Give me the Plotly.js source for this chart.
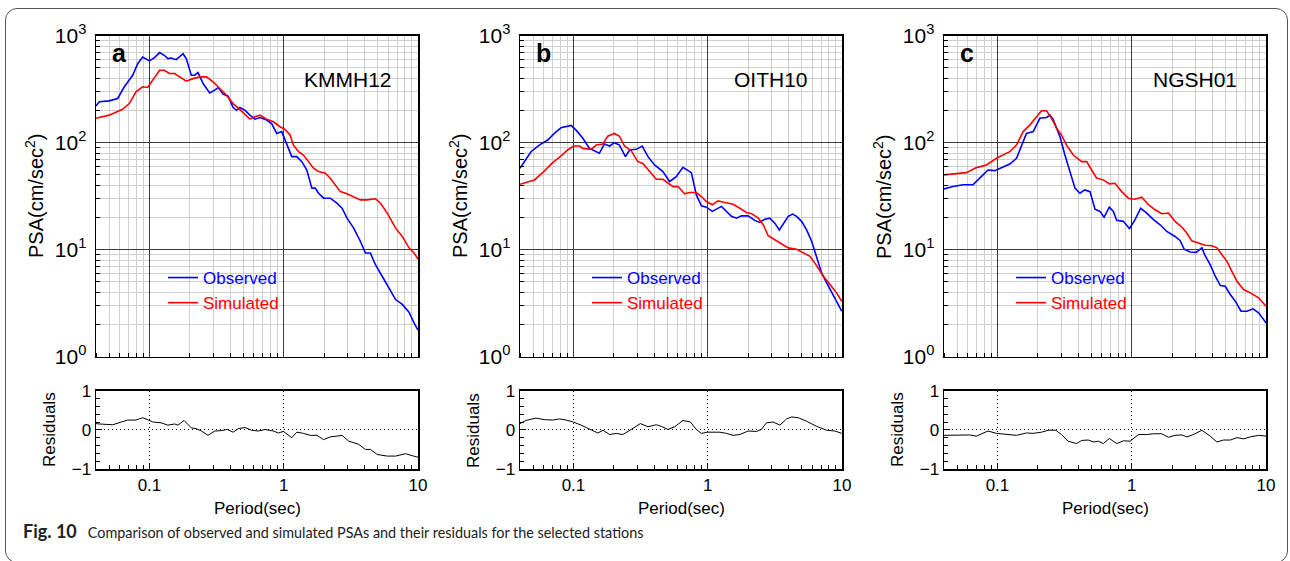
<!DOCTYPE html>
<html><head><meta charset="utf-8">
<script src="https://cdn.plot.ly/plotly-3.0.1.min.js"></script>
<style>
html,body{margin:0;padding:0;background:#fff;overflow:hidden;width:1290px;height:561px}
#chart{position:absolute;left:0;top:0;width:1290px;height:561px}
#frame{position:absolute;left:5px;top:8px;width:1281px;height:553px;border:1px solid #555;border-radius:12px;pointer-events:none}
</style></head><body>
<div id="chart"></div><div id="frame"></div>
<script>
// ---------- data ----------
const stations = ["KMMH12", "OITH10", "NGSH01"];
const panelLetters = ["a", "b", "c"];
const xTickVals = [0.1, 1, 10];
const xTickText = ["0.1", "1", "10"];
const yTickVals = [1, 10, 100, 1000];
const yTickText = ["10<sup>0</sup>", "10<sup>1</sup>", "10<sup>2</sup>", "10<sup>3</sup>"];
const resTickVals = [-1, 0, 1];
const resTickText = ["\u22121", "0", "1"];

// Panel a: KMMH12
const aObsT = [0.04,0.0423,0.0502,0.058,0.065,0.075,0.0818,0.089,0.1,0.109,0.119,0.129,0.137,0.145,0.158,0.178,0.188,0.205,0.217,0.230,0.251,0.281,0.306,0.325,0.354,0.386,0.420,0.445,0.471,0.514,0.560,0.611,0.666,0.746,0.813,0.887,0.966,1.023,1.084,1.148,1.251,1.364,1.486,1.620,1.716,1.817,1.982,2.22,2.49,2.72,2.96,3.32,3.72,4.06,4.42,4.82,5.41,6.07,6.81,7.64,8.57,9.34,10];
const aObsV = [220,241,246,259,333,427,548,632,581,624,695,656,611,619,597,679,611,427,427,452,357,292,310,328,284,272,213,201,213,201,181,166,172,163,151,122,127,106,85.5,74.1,74.1,66.5,55.6,37.6,37.6,33.7,30.3,30.3,27.2,24.4,19.7,15.9,12.0,9.31,9.31,7.24,5.65,4.40,3.42,3.08,2.61,2.07,1.77];
const aSimT = [0.04,0.0502,0.063,0.0708,0.0794,0.089,0.097,0.106,0.119,0.129,0.141,0.154,0.168,0.188,0.211,0.237,0.266,0.298,0.334,0.375,0.420,0.471,0.560,0.611,0.666,0.746,0.838,0.939,1.023,1.115,1.181,1.288,1.403,1.530,1.667,1.817,2.04,2.22,2.42,2.64,2.96,3.32,3.72,4.18,4.82,5.26,5.90,6.81,7.64,8.57,9.34,10];
const aSimV = [169,181,205,232,299,333,328,384,475,475,443,443,412,376,397,412,412,370,321,278,232,205,166,175,181,166,157,141,133,118,95,82.4,76.7,66.5,57.7,53.7,51.8,46.6,40.4,34.9,33.3,31.4,29.2,29.2,29.9,27.2,22.0,15.9,13.3,10.4,9.31,8.18];
const aResT = [0.04,0.0423,0.0532,0.0597,0.0689,0.0794,0.089,0.097,0.106,0.122,0.137,0.154,0.163,0.181,0.205,0.223,0.244,0.273,0.306,0.343,0.381,0.420,0.458,0.514,0.577,0.646,0.725,0.838,0.912,0.995,1.148,1.251,1.403,1.574,1.766,1.982,2.22,2.49,2.72,3.05,3.62,4.06,4.42,4.97,5.90,6.81,8.09,9.08,10];
const aResV = [0.16,0.15,0.13,0.18,0.25,0.25,0.31,0.26,0.20,0.18,0.12,0.15,0.12,0.24,0.05,0.03,-0.03,-0.14,-0.03,-0.02,0.01,-0.06,0.03,0.06,-0.01,-0.03,0.01,-0.03,-0.08,-0.04,-0.20,-0.06,-0.09,-0.14,-0.14,-0.25,-0.18,-0.16,-0.14,-0.29,-0.37,-0.50,-0.50,-0.63,-0.67,-0.67,-0.61,-0.66,-0.70];

// Panel b: OITH10
const bObsT = [0.04,0.043,0.0483,0.0557,0.0643,0.0721,0.0809,0.0961,0.1047,0.1175,0.1316,0.156,0.170,0.186,0.202,0.220,0.244,0.262,0.294,0.325,0.359,0.402,0.464,0.520,0.583,0.654,0.693,0.755,0.823,0.897,0.977,1.083,1.265,1.378,1.502,1.637,1.784,2.00,2.24,2.44,2.66,2.90,3.16,3.41,3.65,3.98,4.29,4.59,5.00,5.45,5.94,6.47,7.05,7.69,8.61,9.23,9.95];
const bObsV = [57.7,66.5,82.4,95,106,122,138,145,131,110,88.5,79.6,97.2,93.1,100,95,74.1,85.5,86.7,93.1,74.1,61.9,53.7,43.4,48.2,58.9,56.5,52.5,32.5,25.7,25.0,22.8,25.4,22.8,20.5,19.7,20.7,20.7,18.8,18.0,19.3,19.7,17.7,15.3,17.5,20.5,21.5,20.5,18.4,15.3,12.0,8.68,6.07,4.89,3.81,3.18,2.66];
const bSimT = [0.04,0.0443,0.0512,0.0590,0.0701,0.0809,0.0908,0.1,0.111,0.1175,0.1355,0.1477,0.166,0.180,0.202,0.220,0.240,0.269,0.302,0.329,0.369,0.414,0.464,0.506,0.551,0.601,0.673,0.734,0.823,0.897,0.977,1.083,1.194,1.340,1.545,1.734,1.944,2.12,2.38,2.59,2.82,3.16,3.55,3.98,4.59,5.14,5.77,6.47,7.26,8.13,9.12,9.95];
const bSimV = [40.9,42.7,44.9,52.5,65.2,75.2,85.5,93.1,93.1,88.5,86.7,95,97.2,115,122,115,93.1,84.2,66.5,64.1,53.7,45.5,45.5,41.8,38.9,38.9,33.3,34.2,34.2,31.4,28.2,26.3,28.6,27.6,26.6,24.4,22.3,21.7,19.7,17.1,13.5,12.4,11.4,10.4,10.1,9.31,8.68,7.10,5.65,4.72,3.95,3.30];
const bResT = [0.04,0.0443,0.0526,0.0608,0.0701,0.0787,0.0882,0.1,0.114,0.1316,0.152,0.166,0.186,0.208,0.233,0.269,0.315,0.359,0.414,0.451,0.506,0.568,0.654,0.743,0.823,0.897,1.0,1.231,1.378,1.545,1.734,2.0,2.31,2.51,2.74,3.07,3.45,3.87,4.21,4.72,5.45,6.47,7.69,8.87,9.95];
const bResV = [0.16,0.24,0.30,0.26,0.25,0.28,0.25,0.20,0.12,0.03,-0.08,-0.01,-0.12,-0.09,-0.12,0.01,0.16,0.08,0.13,0.09,0.01,0.08,0.24,0.20,0.01,-0.09,-0.06,-0.06,-0.09,-0.14,-0.12,-0.03,-0.04,0.01,0.18,0.20,0.12,0.28,0.33,0.31,0.22,0.09,-0.01,-0.03,-0.09];

// Panel c: NGSH01
const cObsT = [0.04,0.0467,0.0554,0.0658,0.0738,0.0851,0.0955,0.110,0.1236,0.1387,0.151,0.1645,0.1846,0.207,0.232,0.246,0.260,0.292,0.318,0.347,0.378,0.411,0.448,0.489,0.533,0.580,0.622,0.681,0.730,0.773,0.867,0.962,1.059,1.167,1.294,1.452,1.627,1.825,2.10,2.29,2.46,2.72,3.02,3.33,3.52,3.84,4.19,4.57,4.97,5.42,5.91,6.51,7.21,8.00,8.81,10];
const cObsV = [37.0,38.9,40.4,40.4,46.6,55.6,54.8,59.7,63.2,71.5,95,122,127,169,172,181,165,114,76.7,53.7,37.6,33.7,36.2,34.9,23.9,22.8,20.1,25.0,22.8,18.8,18.4,15.7,19.1,24.4,22.0,19.1,17.1,14.8,13.3,12.2,10.1,9.51,9.44,10.4,8.79,7.24,5.65,4.62,4.55,3.81,3.30,2.66,2.66,2.80,2.57,2.07];
const cSimT = [0.04,0.0494,0.0588,0.0697,0.0828,0.0983,0.110,0.1236,0.1387,0.1555,0.174,0.195,0.213,0.232,0.253,0.276,0.300,0.327,0.367,0.424,0.462,0.503,0.548,0.615,0.681,0.751,0.842,0.944,1.059,1.188,1.331,1.493,1.675,1.879,2.10,2.36,2.57,2.80,3.15,3.52,3.95,4.31,4.70,5.12,5.57,6.08,6.81,7.64,8.81,10];
const cSimV = [50.0,51.8,52.5,58.5,61.9,71.5,76.7,82.4,95,127,146,175,199,199,169,136,118,95,76.7,66.5,66.5,55.6,46.6,44.9,41.2,41.8,34.9,30.3,29.6,31.0,26.3,23.6,21.7,22.0,18.4,16.3,14.3,12.1,11.5,11.0,10.9,10.4,8.98,7.78,6.28,5.07,4.24,3.95,3.55,2.96];
const cResT = [0.04,0.0524,0.0622,0.0697,0.0851,0.0983,0.117,0.1387,0.1645,0.1846,0.213,0.239,0.272,0.300,0.336,0.389,0.424,0.475,0.519,0.564,0.615,0.681,0.773,0.867,0.973,1.122,1.294,1.452,1.675,1.879,2.10,2.36,2.57,2.88,3.33,3.84,4.31,4.83,5.42,6.08,6.81,7.64,8.81,10];
const cResV = [-0.14,-0.13,-0.13,-0.16,-0.03,-0.09,-0.11,-0.14,-0.08,-0.09,-0.06,-0.01,-0.01,-0.12,-0.29,-0.35,-0.27,-0.26,-0.31,-0.29,-0.35,-0.22,-0.35,-0.28,-0.29,-0.12,-0.12,-0.10,-0.10,-0.19,-0.14,-0.13,-0.18,-0.12,-0.01,-0.16,-0.31,-0.26,-0.26,-0.20,-0.23,-0.18,-0.14,-0.16];

const panels = [
  {obsT:aObsT, obsV:aObsV, simT:aSimT, simV:aSimV, resT:aResT, resV:aResV},
  {obsT:bObsT, obsV:bObsV, simT:bSimT, simV:bSimV, resT:bResT, resV:bResV},
  {obsT:cObsT, obsV:cObsV, simT:cSimT, simV:cSimV, resT:cResT, resV:cResV}
];
const seriesNames = ["Observed", "Simulated"];
const seriesColors = ["#0000ff", "#ff0000"];
const captionBold = "Fig. 10";
const captionText = "Comparison of observed and simulated PSAs and their residuals for the selected stations";

// ---------- layout helpers ----------
const W = 1290, H = 561;
const px = x => x / W, py = y => 1 - y / H;
const colX = [[96, 418], [520, 842], [944, 1266]];
const psaY = [35.7, 356.7], resY = [390.7, 469];
const FONT = "Liberation Sans, Arial, Helvetica, sans-serif";

function minorLog(lo, hi) {
  const out = [];
  for (let e = lo; e < hi; e++) for (let m = 2; m <= 9; m++) out.push(m * Math.pow(10, e));
  return out;
}
const minorX = minorLog(-2, 1).filter(v => v >= 0.04 - 1e-9);
const minorY = minorLog(0, 3);
const xRange = [Math.log10(0.04), 1];

const data = [];
const layout = {
  width: W, height: H, margin: {l: 0, r: 0, t: 0, b: 0},
  paper_bgcolor: "#fff", plot_bgcolor: "#fff",
  font: {family: FONT, color: "#000"},
  showlegend: true, annotations: []
};

panels.forEach((p, i) => {
  const k1 = 2 * i + 1, k2 = 2 * i + 2;
  const xa = "x" + (k1 === 1 ? "" : k1), ya = "y" + (k1 === 1 ? "" : k1);
  const xr = "x" + k2, yr = "y" + k2;
  const legName = i === 0 ? "legend" : "legend" + (i + 1);
  [[p.obsT, p.obsV], [p.simT, p.simV]].forEach((s, j) => {
    data.push({
      x: s[0], y: s[1], xaxis: xa, yaxis: ya, type: "scatter", mode: "lines",
      line: {color: seriesColors[j], width: 1.6},
      name: '<span style="color:' + seriesColors[j] + '">' + seriesNames[j] + '</span>',
      legend: legName, showlegend: true, hoverinfo: "skip"
    });
  });
  data.push({
    x: p.resT, y: p.resV, xaxis: xr, yaxis: yr, type: "scatter", mode: "lines",
    line: {color: "#000", width: 1}, showlegend: false, hoverinfo: "skip"
  });

  const dom = [px(colX[i][0]), px(colX[i][1])];
  const axLine = {showline: true, mirror: true, linecolor: "#000", linewidth: 1.5, zeroline: false};
  layout["xaxis" + (k1 === 1 ? "" : k1)] = Object.assign({
    type: "log", range: xRange, domain: dom, anchor: ya,
    tickvals: xTickVals, showticklabels: false, ticks: "",
    showgrid: true, gridcolor: "#3a3a3a", gridwidth: 1,
    minor: {tickvals: minorX, showgrid: true, gridcolor: "#cfcfcf", gridwidth: 1, ticks: "inside", ticklen: 4, tickcolor: "#000", tickwidth: 1}
  }, axLine);
  layout["yaxis" + (k1 === 1 ? "" : k1)] = Object.assign({
    type: "log", range: [0, 3], domain: [py(psaY[1]), py(psaY[0])], anchor: xa,
    tickvals: yTickVals, ticktext: yTickText, tickfont: {size: 21, family: FONT},
    ticks: "", ticklabelstandoff: 4, showgrid: true, gridcolor: "#3a3a3a", gridwidth: 1,
    minor: {tickvals: minorY, showgrid: true, gridcolor: "#cfcfcf", gridwidth: 1, ticks: "inside", ticklen: 4, tickcolor: "#000", tickwidth: 1}
  }, axLine);
  layout["xaxis" + k2] = Object.assign({
    type: "log", range: xRange, domain: dom, anchor: yr,
    tickvals: xTickVals, ticktext: xTickText, tickfont: {size: 17, family: FONT},
    ticks: "inside", ticklen: 6, tickcolor: "#000",
    showgrid: true, gridcolor: "#000", gridwidth: 1, griddash: "1px,3px",
    minor: {tickvals: minorX, ticks: "inside", ticklen: 4, tickcolor: "#000", showgrid: false}
  }, axLine);
  layout["yaxis" + k2] = Object.assign({
    range: [-1, 1], domain: [py(resY[1]), py(resY[0])], anchor: xr,
    tickvals: resTickVals, ticktext: resTickText, tickfont: {size: 17, family: FONT},
    ticks: "inside", ticklen: 6, tickcolor: "#000",
    showgrid: true, gridcolor: "#000", gridwidth: 1, griddash: "1px,3px",
    minor: {tick0: 0, dtick: 0.2, ticks: "inside", ticklen: 4, tickcolor: "#000", showgrid: false}
  }, axLine);

  layout[legName] = {
    x: px(colX[i][0] + 67), y: py(260), xanchor: "left", yanchor: "top",
    bgcolor: "rgba(0,0,0,0)", borderwidth: 0,
    font: {size: 17, family: FONT}, tracegroupgap: 0
  };

  // y-axis titles and station / panel labels
  layout.annotations.push(
    {text: "PSA(cm/sec<sup>2</sup>)", xref: "paper", yref: "paper", x: px(colX[i][0] - 62), y: py(196),
     textangle: -90, showarrow: false, font: {size: 20, family: FONT}, xanchor: "center", yanchor: "middle"},
    {text: "Residuals", xref: "paper", yref: "paper", x: px(colX[i][0] - 47), y: py(430),
     textangle: -90, showarrow: false, font: {size: 17, family: FONT}, xanchor: "center", yanchor: "middle"},
    {text: "Period(sec)", xref: "paper", yref: "paper", x: px((colX[i][0] + colX[i][1]) / 2), y: py(508),
     showarrow: false, font: {size: 17, family: FONT}, xanchor: "center", yanchor: "middle"},
    {text: "<b>" + panelLetters[i] + "</b>", xref: "paper", yref: "paper", x: px(colX[i][0] + 23), y: py(53),
     showarrow: false, font: {size: 25, family: FONT}, xanchor: "center", yanchor: "middle"}
  );
});
const stationCx = [347.5, 771, 1194.5];
stations.forEach((s, i) => layout.annotations.push({
  text: s, xref: "paper", yref: "paper", x: px(stationCx[i]), y: py(80), showarrow: false,
  font: {size: 21, family: FONT}, xanchor: "center", yanchor: "middle"
}));
layout.annotations.push({
  text: '<span style="font-size:18px"><b>' + captionBold + "</b></span>\u00a0\u00a0\u00a0" + captionText, xref: "paper", yref: "paper",
  x: px(21), y: py(531), xanchor: "left", yanchor: "middle", showarrow: false,
  font: {size: 14.4, family: "Lato, Open Sans, sans-serif", color: "#222"}
});

Plotly.newPlot("chart", data, layout, {staticPlot: true, displayModeBar: false});
</script>
</body></html>
